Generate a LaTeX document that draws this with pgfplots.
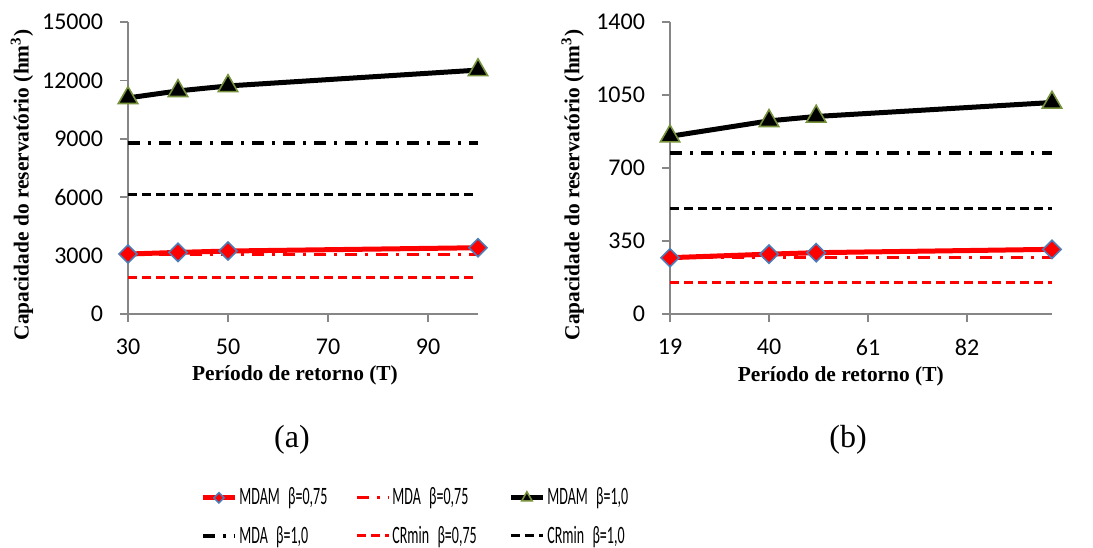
\documentclass[border=0pt]{standalone}
\usepackage{pgfplots}
\pgfplotsset{compat=1.18}
\usepackage{fontspec}
\setmainfont{Liberation Serif}
\newfontfamily\tickfont{Carlito}
\newfontfamily\legfont[FakeStretch=0.56]{Carlito}
\definecolor{axgray}{HTML}{868686}
\definecolor{mkblue}{HTML}{4A7EBB}
\definecolor{mkolive}{HTML}{76923C}

\pgfplotsset{
  myaxis/.style={
    scale only axis, height=146pt,
    axis lines*=left,
    axis line style={axgray, line width=0.8pt},
    tick style={axgray, line width=0.8pt},
    tick align=outside, major tick length=4pt,
    ymin=0, xmax=100, clip=false,
    scaled y ticks=false, scaled x ticks=false,
    /pgf/number format/assume math mode=true,
    /pgf/number format/set thousands separator={},
    tick label style={font=\tickfont\fontsize{12}{14}\selectfont, black},
    xticklabel style={yshift=-5pt},
    yticklabel style={xshift=-5pt},
    label style={font=\bfseries\fontsize{10.7}{12}\selectfont},
    legend image code/.code={\draw[mark repeat=2,mark phase=2,##1] plot coordinates {(0pt,0pt) (8pt,0pt) (16pt,0pt)};},
  },
  mdamA/.style={red, line width=2.5pt, mark=square*, mark size=3.2pt,
    mark options={rotate=45, fill=red, draw=mkblue, line width=0.8pt, solid}},
  mdaA/.style={red, line width=1.5pt, dash pattern=on 6pt off 4pt on 1.5pt off 4pt},
  mdamB/.style={black, line width=2.5pt, mark=triangle*, mark size=5.6pt,
    mark options={fill=black, draw=mkolive, line width=0.8pt, solid}},
  mdaB/.style={black, line width=2pt, dash pattern=on 6pt off 4pt on 1.5pt off 4pt},
  crA/.style={red, line width=1.5pt, dash pattern=on 4.5pt off 2.5pt},
  crB/.style={black, line width=1.5pt, dash pattern=on 4.5pt off 2.5pt},
}

\begin{document}
\begin{tikzpicture}
\useasboundingbox (0,0) rectangle (546.5pt,273.5pt);
% ---------------- (a)
\begin{axis}[myaxis, at={(64pt,116.5pt)}, anchor=south west, width=175pt,
  xmin=30, ymax=15000, xtick={30,50,70,90}, ytick={0,3000,6000,9000,12000,15000},
  xlabel={Período de retorno (T)},
  ylabel={Capacidade do reservatório (hm\textsuperscript{3})},
  xlabel style={at={(axis description cs:0.477,-0.209)}, anchor=center},
  ylabel style={at={(axis description cs:-0.303,0.442)}, anchor=center},
  legend columns=3,
  legend style={at={(axis description cs:0.2057,-0.695)}, anchor=west,
    draw=none, fill=none, inner sep=0pt, row sep=7pt, column sep=0pt,
    nodes={text width=57pt, inner xsep=1pt, inner ysep=1pt, align=left,
      font=\legfont\fontsize{12.5}{13}\selectfont}},
]
\addplot[crB, forget plot] coordinates {(30,6150) (100,6150)};
\addplot[crA, forget plot] coordinates {(30,1860) (100,1860)};
\addplot[mdaB, forget plot] coordinates {(30,8790) (100,8790)};
\addplot[mdaA, forget plot] coordinates {(30,3060) (100,3060)};
\addplot[mdamB, forget plot] coordinates {(30,11100) (40,11460) (50,11715) (100,12530)};
\addplot[mdamA, forget plot] coordinates {(30,3080) (40,3165) (50,3235) (100,3405)};
\addlegendimage{mdamA, mark size=1.8pt}
\addlegendentry{MDAM\ β=0,75}
\addlegendimage{mdaA}
\addlegendentry{MDA\ β=0,75}
\addlegendimage{mdamB, mark size=3pt}
\addlegendentry{MDAM\ β=1,0}
\addlegendimage{mdaB}
\addlegendentry{MDA\ β=1,0}
\addlegendimage{crA}
\addlegendentry{CRmin β=0,75}
\addlegendimage{crB}
\addlegendentry{CRmin β=1,0}
\end{axis}
% ---------------- (b)
\begin{axis}[myaxis, at={(335pt,116.5pt)}, anchor=south west, width=191pt,
  xmin=19, ymax=1400, xtick={19,40,61,82}, ytick={0,350,700,1050,1400},
  xlabel={Período de retorno (T)},
  ylabel={Capacidade do reservatório (hm\textsuperscript{3})},
  xlabel style={at={(axis description cs:0.447,-0.215)}, anchor=center},
  ylabel style={at={(axis description cs:-0.255,0.442)}, anchor=center},
]
\addplot[crB] coordinates {(19,506) (100,506)};
\addplot[crA] coordinates {(19,152) (100,152)};
\addplot[mdaB] coordinates {(19,774) (100,774)};
\addplot[mdaA] coordinates {(19,270) (100,270)};
\addplot[mdamB] coordinates {(19,852) (40,926) (50,947) (100,1014)};
\addplot[mdamA] coordinates {(19,270) (40,287) (50,294) (100,310)};
\end{axis}
\node[font=\fontsize{16}{18}\selectfont] at (146pt,53.5pt) {(a)};
\node[font=\fontsize{16}{18}\selectfont] at (424pt,53.5pt) {(b)};
\end{tikzpicture}
\end{document}
